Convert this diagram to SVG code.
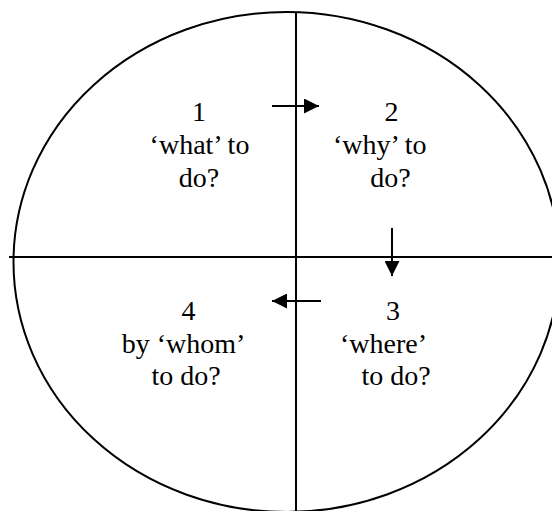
<svg xmlns="http://www.w3.org/2000/svg" width="552" height="511" viewBox="0 0 552 511">
<style>
.ln{stroke:#000;stroke-width:2;fill:none}
.t{font-family:"Liberation Serif","Times New Roman",serif;font-size:28px;fill:#000;text-anchor:middle}
</style>
<defs>
<marker id="ah" viewBox="0 0 10 10" refX="10" refY="5" markerWidth="15" markerHeight="15" markerUnits="userSpaceOnUse" orient="auto">
<path d="M0,0 L10,5 L0,10 Z" fill="#000"/>
</marker>
</defs>
<rect width="552" height="511" fill="#fff"/>
<g id="frame">
<ellipse class="ln" cx="286.5" cy="262" rx="273" ry="250"/>
<line class="ln" x1="296" y1="12" x2="296" y2="511"/>
<line class="ln" x1="9" y1="257" x2="552" y2="257"/>
</g>
<g id="connectors">
<line class="ln" x1="272" y1="106" x2="319" y2="106" marker-end="url(#ah)"/>
<line class="ln" x1="392" y1="228" x2="392" y2="276" marker-end="url(#ah)"/>
<line class="ln" x1="321" y1="301" x2="272" y2="301" marker-end="url(#ah)"/>
</g>
<g id="node1">
<text class="t" x="199" y="121">1</text>
<text class="t" x="199.5" y="154">‘what’ to</text>
<text class="t" x="199" y="187">do?</text>
</g>
<g id="node2">
<text class="t" x="391.5" y="121">2</text>
<text class="t" x="333" y="154" style="text-anchor:start">‘why’ to</text>
<text class="t" x="390.5" y="187">do?</text>
</g>
<g id="node3">
<text class="t" x="393" y="320">3</text>
<text class="t" x="340" y="352.5" style="text-anchor:start">‘where’</text>
<text class="t" x="396" y="385">to do?</text>
</g>
<g id="node4">
<text class="t" x="188.5" y="320">4</text>
<text class="t" x="183.5" y="352.5">by ‘whom’</text>
<text class="t" x="186" y="385">to do?</text>
</g>
</svg>
